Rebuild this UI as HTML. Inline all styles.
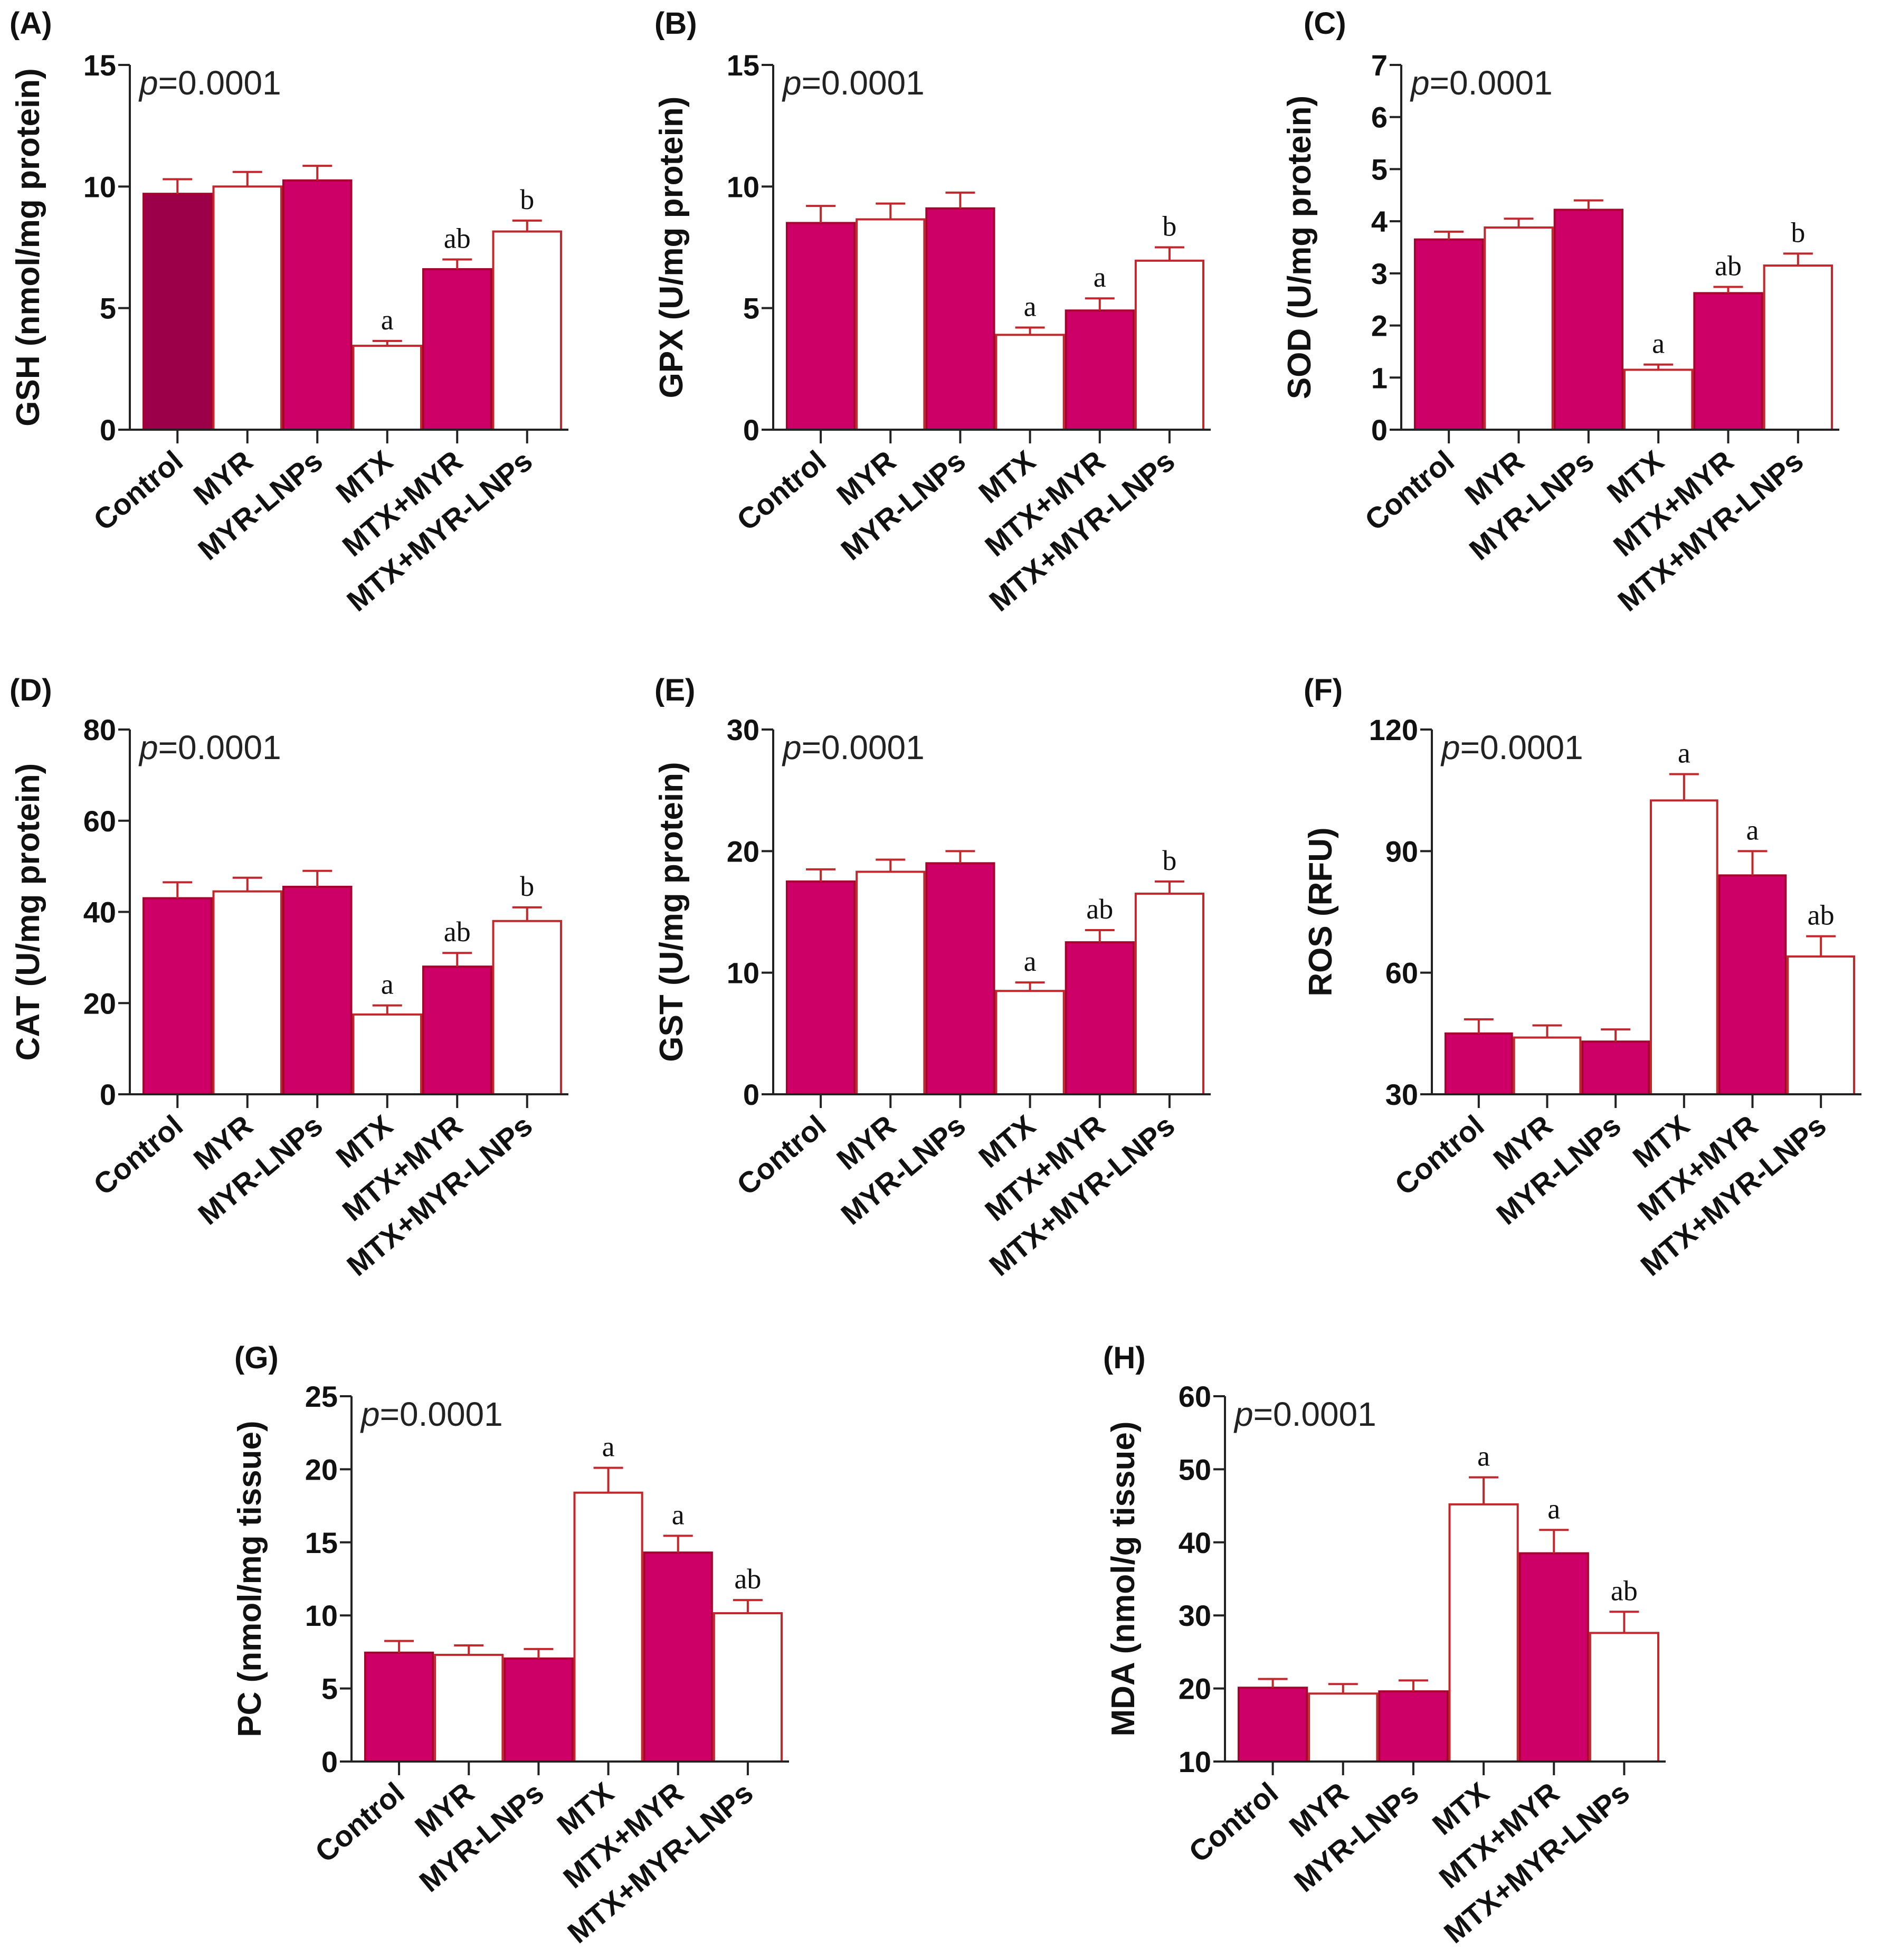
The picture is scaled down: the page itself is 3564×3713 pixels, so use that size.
<!DOCTYPE html>
<html><head><meta charset="utf-8">
<style>
html,body{margin:0;padding:0;background:#fff;}
svg{display:block;}
</style></head>
<body>
<svg id="fig" xmlns="http://www.w3.org/2000/svg" width="3564" height="3713" viewBox="0 0 3564 3713">
<rect width="3564" height="3713" fill="#fff"/>
</svg>
<script>
const categories = ["Control","MYR","MYR-LNPs","MTX","MTX+MYR","MTX+MYR-LNPs"];
const gshValues = [9.7,10.0,10.25,3.45,6.6,8.15];
const gshErr = [0.6,0.6,0.6,0.2,0.4,0.45];
const gpxValues = [8.5,8.65,9.1,3.9,4.9,6.95];
const gpxErr = [0.7,0.65,0.65,0.3,0.5,0.55];
const sodValues = [3.65,3.88,4.22,1.15,2.62,3.15];
const sodErr = [0.15,0.17,0.18,0.1,0.12,0.23];
const catValues = [43,44.5,45.5,17.5,28,38];
const catErr = [3.5,3,3.5,2,3,3];
const gstValues = [17.5,18.3,19,8.5,12.5,16.5];
const gstErr = [1,1,1,0.7,1,1];
const rosValues = [45,44,43,102.5,84,64];
const rosErr = [3.5,3,3,6.5,6,5];
const pcValues = [7.45,7.3,7.05,18.4,14.3,10.15];
const pcErr = [0.8,0.65,0.65,1.7,1.15,0.9];
const mdaValues = [20.1,19.3,19.6,45.2,38.5,27.6];
const mdaErr = [1.2,1.3,1.5,3.7,3.2,2.9];
const sigA = ["","","","a","ab","b"];
const sigB = ["","","","a","a","b"];
const sigF = ["","","","a","a","ab"];
const ticksGSH = [0,5,10,15];
const ticksSOD = [0,1,2,3,4,5,6,7];
const ticksCAT = [0,20,40,60,80];
const ticksGST = [0,10,20,30];
const ticksROS = [30,60,90,120];
const ticksPC = [0,5,10,15,20,25];
const ticksMDA = [10,20,30,40,50,60];

const MAG="#cc0066", DARK="#9c0048", RED="#c0282e";
const NS="http://www.w3.org/2000/svg";
const svg=document.getElementById('fig');
function mk(tag,attrs,parent){const e=document.createElementNS(NS,tag);for(const k in attrs)e.setAttribute(k,attrs[k]);(parent||svg).appendChild(e);return e;}

const panels=[
 {id:'A',key:'gsh',vals:gshValues,err:gshErr,sig:sigA,ticks:ticksGSH,title:'GSH (nmol/mg protein)',x0:246,x1:1077,y0:123,y1:814,lx:18,ly:64,firstDark:true},
 {id:'B',key:'gpx',vals:gpxValues,err:gpxErr,sig:sigB,ticks:ticksGSH,title:'GPX  (U/mg protein)',x0:1465,x1:2294,y0:123,y1:814,lx:1240,ly:64},
 {id:'C',key:'sod',vals:sodValues,err:sodErr,sig:sigA,ticks:ticksSOD,title:'SOD (U/mg protein)',x0:2655,x1:3485,y0:123,y1:814,lx:2470,ly:64},
 {id:'D',key:'cat',vals:catValues,err:catErr,sig:sigA,ticks:ticksCAT,title:'CAT (U/mg protein)',x0:246,x1:1077,y0:1382,y1:2073,lx:18,ly:1327},
 {id:'E',key:'gst',vals:gstValues,err:gstErr,sig:sigA,ticks:ticksGST,title:'GST (U/mg protein)',x0:1465,x1:2294,y0:1382,y1:2073,lx:1240,ly:1327},
 {id:'F',key:'ros',vals:rosValues,err:rosErr,sig:sigF,ticks:ticksROS,title:'ROS (RFU)',x0:2713,x1:3527,y0:1382,y1:2073,lx:2470,ly:1327},
 {id:'G',key:'pc',vals:pcValues,err:pcErr,sig:sigF,ticks:ticksPC,title:'PC (nmol/mg tissue)',x0:666,x1:1495,y0:2645,y1:3337,lx:444,ly:2592},
 {id:'H',key:'mda',vals:mdaValues,err:mdaErr,sig:sigF,ticks:ticksMDA,title:'MDA (nmol/g tissue)',x0:2321,x1:3156,y0:2645,y1:3337,lx:2090,ly:2592}
];

panels.forEach(p=>{
  const g=mk('g',{});
  
  
  const tmin=p.ticks[0], tmax=p.ticks[p.ticks.length-1];
  const yS=v=>p.y1-(v-tmin)/(tmax-tmin)*(p.y1-p.y0);
  const pad=24, bw=(p.x1-p.x0-pad-12)/categories.length;
  const pl=mk('text',{x:p.lx,y:p.ly,'font-family':'Liberation Sans, sans-serif','font-size':58,'font-weight':'bold',fill:'#111'},g);
  pl.textContent='('+p.id+')';
  
  
  p.vals.forEach((v,i)=>{
    const x=p.x0+pad+i*bw, yt=yS(v), cx=x+bw/2;
    const white=(i%2===1);
    const fill=white?'#fff':(i===0&&p.firstDark?DARK:MAG);
    const r=mk('rect',{x:x+2,y:yt,width:bw-4,height:p.y1-yt,fill:fill,stroke:white?RED:'#a8002e','stroke-width':4},g);
    
    
    const ye=yS(v+p.err[i]);
    const eb=mk('path',{d:`M${cx},${yt} V${ye} M${cx-28},${ye} H${cx+28}`,stroke:RED,'stroke-width':4,fill:'none'},g);
    
    
    if(p.sig[i]){
      const s=mk('text',{x:cx,y:ye-22,'text-anchor':'middle','font-family':'Liberation Serif, serif','font-size':54,fill:'#111'},g);
      s.textContent=p.sig[i];
      
      
    }
    const tk=mk('line',{x1:cx,y1:p.y1,x2:cx,y2:p.y1+26,stroke:'#222','stroke-width':4},g);
    
    
    const ax_=cx+14, ay_=p.y1+66;
    const lt=mk('text',{x:ax_,y:ay_,'text-anchor':'end','font-family':'Liberation Sans, sans-serif','font-size':56,'font-weight':'bold',fill:'#111',transform:`rotate(-40 ${ax_} ${ay_})`},g);
    lt.textContent=categories[i];
    
    
  });
  const ax=mk('path',{d:`M${p.x0},${p.y0} V${p.y1} H${p.x1}`,stroke:'#222','stroke-width':4,fill:'none'},g);
  
  
  p.ticks.forEach(t=>{
    const y=yS(t);
    const tl=mk('line',{x1:p.x0-22,y1:y,x2:p.x0,y2:y,stroke:'#222','stroke-width':4},g);
    
    
    const tt=mk('text',{x:p.x0-26,y:y+20,'text-anchor':'end','font-family':'Liberation Sans, sans-serif','font-size':56,'font-weight':'bold',fill:'#111'},g);
    tt.textContent=t;
    
    
  });
  const cy=(p.y0+p.y1)/2, tx=p.x0-172-(tmax>=100?18:0);
  const yt=mk('text',{x:tx,y:cy,'text-anchor':'middle','font-family':'Liberation Sans, sans-serif','font-size':62,'font-weight':'bold',fill:'#111',transform:`rotate(-90 ${tx} ${cy})`},g);
  yt.textContent=p.title;
  
  
  const pv=mk('text',{x:p.x0+18,y:p.y0+56,'font-family':'Liberation Sans, sans-serif','font-size':64,fill:'#222'},g);
  pv.innerHTML='<tspan font-style="italic">p</tspan>=0.0001';
  
  
});
</script>
</body></html>
